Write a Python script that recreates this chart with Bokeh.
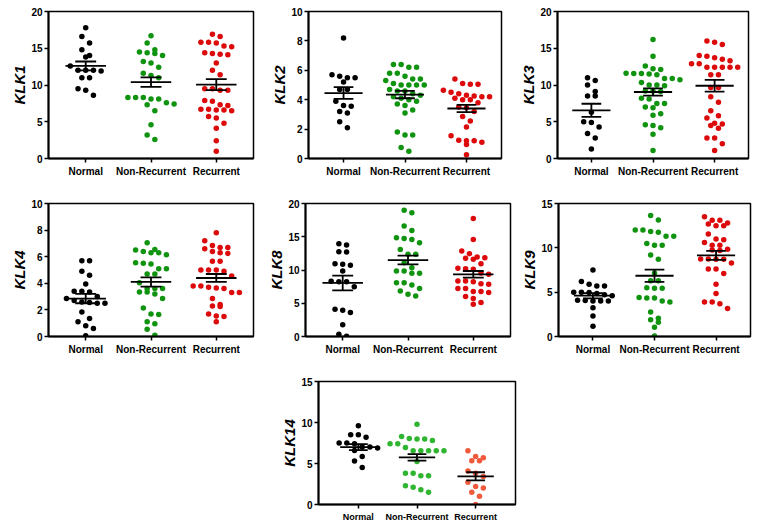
from bokeh.plotting import figure
from bokeh.layouts import column, row
from bokeh.models import Range1d, FixedTicker, Spacer, Arrow, ColumnDataSource
from bokeh.embed import file_html
from bokeh.resources import INLINE

categories = ["Normal", "Non-Recurrent", "Recurrent"]

# ---- KLK1 ----
klk1_normal = [17.8, 16.6, 15.7, 14.8, 14.0, 13.8, 12.6, 12.0, 12.0, 12.0, 11.9, 11.0, 11.0, 9.5, 9.3, 8.6]
klk1_nonrec = [16.7, 15.7, 14.8, 14.5, 14.4, 14.3, 14.0, 13.2, 13.0, 12.4, 11.6, 11.3, 11.0, 8.3, 8.3, 8.3,
               8.1, 8.1, 7.6, 7.4, 7.3, 6.5, 4.6, 3.2, 2.6]
klk1_rec = [16.9, 16.6, 15.8, 15.7, 15.8, 15.3, 15.2, 14.4, 14.2, 14.1, 14.3, 13.0, 12.0, 11.4, 9.5, 9.3,
            9.5, 9.3, 7.9, 7.8, 7.3, 7.2, 6.7, 6.6, 6.5, 6.6, 6.7, 5.7, 5.5, 4.8, 4.1, 2.4, 1.0]
klk1_mean = [12.6, 10.4, 10.05]
klk1_sem = [0.6, 0.65, 0.75]

# ---- KLK2 ----
klk2_normal = [8.2, 5.7, 5.6, 5.5, 5.5, 5.2, 4.7, 4.7, 3.9, 3.6, 3.55, 3.2, 3.1, 2.5, 2.1]
klk2_nonrec = [6.4, 6.4, 6.2, 6.2, 5.8, 5.8, 5.6, 5.4, 5.4, 5.3, 5.0, 5.0, 5.0, 5.0, 5.1, 4.7, 4.6, 4.6,
               4.4, 4.3, 4.2, 4.1, 4.0, 3.9, 3.7, 3.6, 3.3, 3.1, 1.8, 1.6, 1.6, 0.75, 0.5]
klk2_rec = [5.4, 5.1, 5.05, 5.05, 4.65, 4.5, 4.4, 4.3, 4.25, 4.2, 4.2, 4.1, 4.0, 4.0, 3.8, 3.5, 3.45,
            3.2, 2.85, 2.55, 2.15, 1.55, 1.25, 1.2, 1.2, 1.1, 0.95, 0.25]
klk2_mean = [4.45, 4.35, 3.4]
klk2_sem = [0.4, 0.25, 0.25]

# ---- KLK3 ----
klk3_normal = [11.0, 10.6, 10.0, 9.1, 8.5, 8.5, 6.3, 5.0, 4.9, 4.3, 3.4, 2.8, 1.3]
klk3_nonrec = [16.2, 13.9, 12.6, 12.2, 12.1, 11.6, 11.55, 11.55, 11.5, 11.4, 10.9, 10.9, 10.7, 10.35,
               10.0, 10.0, 9.9, 9.2, 9.2, 9.1, 8.2, 8.1, 7.5, 7.5, 7.0, 6.9, 6.1, 5.9, 4.6, 4.5, 4.2,
               3.3, 1.1]
klk3_rec = [16.0, 15.8, 15.5, 14.0, 13.9, 13.7, 13.5, 13.3, 12.9, 12.9, 12.4, 12.4, 12.4, 12.4, 12.4,
            11.4, 11.4, 9.65, 9.65, 8.4, 7.65, 6.5, 5.8, 5.5, 4.8, 4.7, 4.5, 4.1, 2.8, 2.8, 2.0, 1.1]
klk3_mean = [6.55, 9.05, 9.9]
klk3_sem = [0.9, 0.5, 0.8]

# ---- KLK4 ----
klk4_normal = [5.7, 5.7, 4.9, 4.6, 3.95, 3.4, 3.4, 3.35, 3.0, 2.85, 2.7, 2.6, 2.55, 2.5, 2.5, 1.85,
               1.35, 1.1, 0.8, 0.6, 0.05]
klk4_nonrec = [7.05, 6.55, 6.5, 6.4, 6.3, 6.3, 6.15, 5.55, 5.5, 5.45, 5.1, 5.1, 4.7, 4.7, 4.05, 3.6,
               3.6, 3.6, 3.35, 3.35, 3.2, 2.85, 2.15, 1.7, 1.65, 1.1, 0.95, 0.55, 0.1]
klk4_rec = [7.8, 7.2, 6.85, 6.7, 6.7, 6.6, 6.4, 6.3, 6.25, 5.65, 5.65, 5.0, 5.0, 5.0, 4.9, 4.55, 3.8,
            3.8, 3.7, 3.65, 3.6, 3.3, 3.3, 2.85, 2.4, 2.3, 2.25, 1.7, 1.55, 1.5, 1.1]
klk4_mean = [2.85, 4.1, 4.4]
klk4_sem = [0.35, 0.35, 0.3]

# ---- KLK8 ----
klk8_normal = [13.95, 13.75, 12.75, 12.7, 10.95, 10.85, 10.7, 9.85, 8.3, 8.25, 8.25, 7.5, 4.1, 3.95,
               3.6, 1.75, 0.35, 0.05]
klk8_nonrec = [19.0, 18.6, 16.6, 15.95, 14.85, 14.75, 14.6, 14.1, 13.1, 12.35, 12.35, 11.1, 10.35,
               9.85, 9.85, 9.5, 9.5, 8.1, 8.1, 7.75, 7.2, 6.85, 6.35, 6.1]
klk8_rec = [17.75, 14.6, 12.85, 12.45, 11.95, 11.85, 11.75, 11.6, 10.95, 10.25, 10.2, 10.1, 9.55, 9.35,
            8.35, 8.35, 8.25, 7.95, 7.85, 7.2, 7.2, 6.75, 6.75, 6.6, 6.0, 5.7, 5.1, 4.85]
klk8_mean = [8.05, 11.5, 9.35]
klk8_sem = [1.1, 0.65, 0.5]

# ---- KLK9 ----
klk9_normal = [7.5, 6.2, 5.9, 5.7, 5.7, 5.0, 5.0, 4.95, 4.85, 4.7, 4.6, 4.1, 4.05, 4.0, 4.0, 4.0,
               3.25, 2.3, 1.15]
klk9_nonrec = [13.65, 13.15, 12.0, 12.0, 11.85, 11.75, 11.3, 11.3, 10.5, 10.3, 10.3, 9.2, 8.7, 7.15,
               6.3, 6.3, 5.5, 5.45, 5.45, 4.4, 4.35, 4.35, 4.0, 3.9, 2.75, 2.05, 1.9, 1.6, 1.05, 0.05]
klk9_rec = [13.5, 13.1, 13.1, 12.8, 12.7, 12.5, 12.5, 11.55, 11.0, 10.9, 10.6, 10.3, 10.3, 9.85, 9.75,
            9.7, 8.75, 8.75, 8.7, 8.7, 8.3, 7.6, 7.6, 7.1, 5.9, 4.85, 3.9, 3.9, 3.7, 3.15]
klk9_mean = [4.6, 6.85, 9.15]
klk9_sem = [0.3, 0.7, 0.5]

# ---- KLK14 ----
klk14_normal = [9.6, 8.5, 8.5, 8.2, 7.5, 7.5, 7.4, 7.0, 7.0, 6.9, 6.6, 5.85, 5.3, 4.5]
klk14_nonrec = [9.8, 8.3, 8.05, 8.0, 8.0, 7.8, 7.4, 7.4, 6.95, 6.55, 6.55, 6.55, 6.55, 6.55, 5.25,
                3.8, 3.8, 3.5, 3.5, 2.3, 2.1, 1.8, 1.5]
klk14_rec = [6.55, 5.85, 5.7, 5.35, 5.35, 4.1, 3.8, 3.4, 2.7, 2.2, 2.0, 1.5, 1.0, 0.0]
klk14_mean = [7.0, 5.75, 3.43]
klk14_sem = [0.37, 0.4, 0.5]

COLORS_MAIN = ["#000000", "#109410", "#dc0a0a"]
COLORS_14 = ["#000000", "#2fb52f", "#f05a3c"]
FONT = "Liberation Sans"


def row_offsets(vals, px_x, px_y, bin_px=7.0, gap_px=7.7):
    """Prism-style scatter: values close together share a row, spread symmetrically."""
    order = sorted(range(len(vals)), key=lambda i: -vals[i])
    rows = []
    for i in order:
        if rows and (vals[rows[-1][0]] - vals[i]) * px_y < bin_px:
            rows[-1].append(i)
        else:
            rows.append([i])
    offs = [0.0] * len(vals)
    for r in rows:
        n = len(r)
        for j, i in enumerate(r):
            offs[i] = (j - (n - 1) / 2.0) * gap_px / px_x
    return offs


def panel(label, groups, colors, means, sems, y_end, y_step, fw, fh, pad, bl, br, bt, bb,
          cat_font="10px"):
    x0, x1 = 1 - pad, 3 + pad
    p = figure(output_backend="svg", toolbar_location=None, frame_width=fw, frame_height=fh,
               x_range=Range1d(x0, x1), y_range=Range1d(0, y_end),
               min_border_left=bl, min_border_right=br, min_border_top=bt, min_border_bottom=bb,
               background_fill_color="white", border_fill_color="white")
    # box around the frame (top and right sides)
    p.outline_line_color = "black"
    p.outline_line_width = 1.5
    p.outline_line_alpha = 1.0
    p.xgrid.visible = False
    p.ygrid.visible = False
    px_x = fw / (x1 - x0)
    px_y = fh / y_end
    xs = [1, 2, 3]
    for k, (vals, col) in enumerate(zip(groups, colors)):
        offs = row_offsets(vals, px_x, px_y)
        p.scatter([xs[k] + o for o in offs], vals, size=5.5, fill_color=col, line_color=None)
    lo = [m - s for m, s in zip(means, sems)]
    hi = [m + s for m, s in zip(means, sems)]
    lw = 1.8
    p.segment(x0=[x - 0.31 for x in xs], x1=[x + 0.31 for x in xs], y0=means, y1=means,
              line_width=lw, line_color="black")
    p.segment(x0=xs, x1=xs, y0=lo, y1=hi, line_width=lw, line_color="black")
    p.segment(x0=[x - 0.16 for x in xs], x1=[x + 0.16 for x in xs], y0=lo, y1=lo,
              line_width=lw, line_color="black")
    p.segment(x0=[x - 0.16 for x in xs], x1=[x + 0.16 for x in xs], y0=hi, y1=hi,
              line_width=lw, line_color="black")

    yticks = list(range(0, y_end + 1, y_step))

    # outward tick marks on the top (category positions) and right (y ticks) frame sides
    top_len = 5 / px_y
    right_len = 4 / px_x
    top_src = ColumnDataSource(dict(xa=xs, ya=[y_end] * 3, xb=xs, yb=[y_end + top_len] * 3))
    right_src = ColumnDataSource(dict(xa=[x1] * len(yticks), ya=yticks,
                                      xb=[x1 + right_len] * len(yticks), yb=yticks))
    for src in (top_src, right_src):
        p.add_layout(Arrow(start=None, end=None, x_start="xa", y_start="ya", x_end="xb", y_end="yb",
                           source=src, line_width=1.5, line_color="black"))

    xa = p.xaxis[0]
    xa.ticker = FixedTicker(ticks=xs)
    xa.major_label_overrides = {1: categories[0], 2: categories[1], 3: categories[2]}
    xa.minor_tick_line_color = None
    xa.major_tick_in = 0
    xa.major_tick_out = 4
    xa.axis_line_width = 2
    xa.major_tick_line_width = 1.5
    xa.major_label_text_font = FONT
    xa.major_label_text_font_style = "bold"
    xa.major_label_text_font_size = cat_font
    xa.major_label_text_color = "black"
    xa.major_label_standoff = 3

    ya = p.yaxis[0]
    ya.ticker = FixedTicker(ticks=yticks)
    ya.axis_label = label
    ya.axis_label_text_font = FONT
    ya.axis_label_text_font_style = "bold italic"
    ya.axis_label_text_font_size = "15px"
    ya.axis_label_text_color = "black"
    ya.axis_label_standoff = 0
    ya.major_label_text_font = FONT
    ya.major_label_text_font_style = "bold"
    ya.major_label_text_font_size = "10px"
    ya.major_label_text_color = "black"
    ya.major_label_standoff = 2
    ya.major_tick_in = 0
    ya.major_tick_out = 4
    ya.major_tick_line_width = 1.5
    ya.minor_tick_line_color = None
    ya.axis_line_width = 2
    return p


p1 = panel("KLK1", [klk1_normal, klk1_nonrec, klk1_rec], COLORS_MAIN, klk1_mean, klk1_sem,
           20, 5, 205, 147, 0.57, 48, 8, 11, 37)
p2 = panel("KLK2", [klk2_normal, klk2_nonrec, klk2_rec], COLORS_MAIN, klk2_mean, klk2_sem,
           10, 2, 193, 147, 0.57, 47, 8, 11, 37)
p3 = panel("KLK3", [klk3_normal, klk3_nonrec, klk3_rec], COLORS_MAIN, klk3_mean, klk3_sem,
           20, 5, 191, 147, 0.55, 48, 6, 11, 37)
p4 = panel("KLK4", [klk4_normal, klk4_nonrec, klk4_rec], COLORS_MAIN, klk4_mean, klk4_sem,
           10, 2, 205, 133, 0.57, 48, 5, 8, 37)
p5 = panel("KLK8", [klk8_normal, klk8_nonrec, klk8_rec], COLORS_MAIN, klk8_mean, klk8_sem,
           20, 5, 205, 133, 0.57, 47, 5, 8, 37)
p6 = panel("KLK9", [klk9_normal, klk9_nonrec, klk9_rec], COLORS_MAIN, klk9_mean, klk9_sem,
           15, 5, 192, 133, 0.56, 43, 5, 8, 37)
p7 = panel("KLK14", [klk14_normal, klk14_nonrec, klk14_rec], COLORS_14, klk14_mean, klk14_sem,
           15, 5, 197, 123, 0.68, 47, 5, 8, 20, cat_font="9px")

layout = column(row(p1, p2, p3), row(p4, p5, p6), row(Spacer(width=271, height=10), p7))

open("out.html", "w").write(file_html(layout, INLINE))
